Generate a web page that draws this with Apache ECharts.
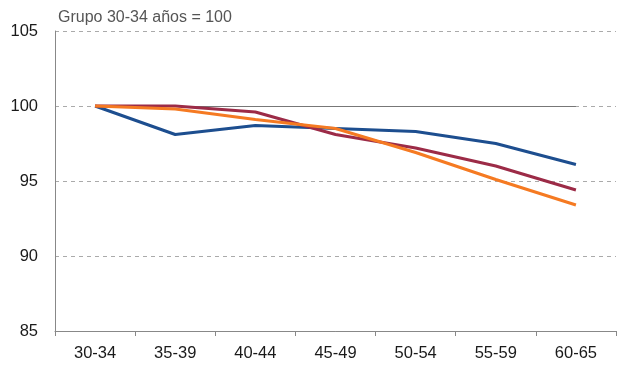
<!DOCTYPE html>
<html>
<head>
<meta charset="utf-8">
<script src="https://cdn.jsdelivr.net/npm/echarts@6/dist/echarts.min.js"></script>
<style>
  html, body { margin: 0; padding: 0; background: #fff; }
  #chart { width: 617px; height: 365px; }
</style>
</head>
<body>
<div id="chart"></div>
<script>
// Age groups and index values (group 30-34 = 100)
const categories = ['30-34', '35-39', '40-44', '45-49', '50-54', '55-59', '60-65'];
const blueValues = [100, 98.1, 98.7, 98.5, 98.3, 97.5, 96.1];
const redValues = [100, 100, 99.6, 98.1, 97.2, 96.0, 94.4];
const orangeValues = [100, 99.8, 99.1, 98.5, 96.9, 95.1, 93.4];
const yTicks = [85, 90, 95, 100, 105];
const baseValue = 100;

const chart = echarts.init(document.getElementById('chart'), null, { renderer: 'canvas' });

const lineSeries = (data, color) => ({
  type: 'line',
  data: data,
  symbol: 'none',
  lineStyle: { color: color, width: 3 },
  z: 3
});

chart.setOption({
  animation: false,
  textStyle: { fontFamily: 'Liberation Sans, Arial, sans-serif' },
  title: {
    text: 'Grupo 30-34 años = 100',
    left: 53, top: 5,
    textStyle: { fontSize: 16, fontWeight: 'normal', color: '#555' }
  },
  grid: { left: 55, right: 1, top: 31, bottom: 34 },
  xAxis: {
    type: 'category',
    data: categories,
    boundaryGap: true,
    axisLine: { lineStyle: { color: '#888', width: 1 } },
    axisTick: { show: true, length: 5, lineStyle: { color: '#888' } },
    axisLabel: { color: '#1a1a1a', fontSize: 16.5, margin: 14 },
    splitLine: { show: false }
  },
  yAxis: {
    type: 'value',
    min: yTicks[0],
    max: yTicks[yTicks.length - 1],
    interval: 5,
    axisLine: { show: true, lineStyle: { color: '#888', width: 1 } },
    axisTick: { show: false },
    axisLabel: { color: '#1a1a1a', fontSize: 16.5, margin: 17 },
    splitLine: { show: true, lineStyle: { color: '#aaa', type: [4, 4], width: 1 } }
  },
  series: [
    Object.assign(lineSeries(blueValues, '#1d4e8f'), {
      markLine: {
        silent: true,
        symbol: 'none',
        label: { show: false },
        lineStyle: { color: '#777', type: 'solid', width: 1 },
        data: [[
          { coord: [categories[0], baseValue] },
          { coord: [categories[categories.length - 1], baseValue] }
        ]],
        z: 1
      }
    }),
    lineSeries(redValues, '#9c2b47'),
    lineSeries(orangeValues, '#f57a22')
  ]
});
</script>
</body>
</html>
